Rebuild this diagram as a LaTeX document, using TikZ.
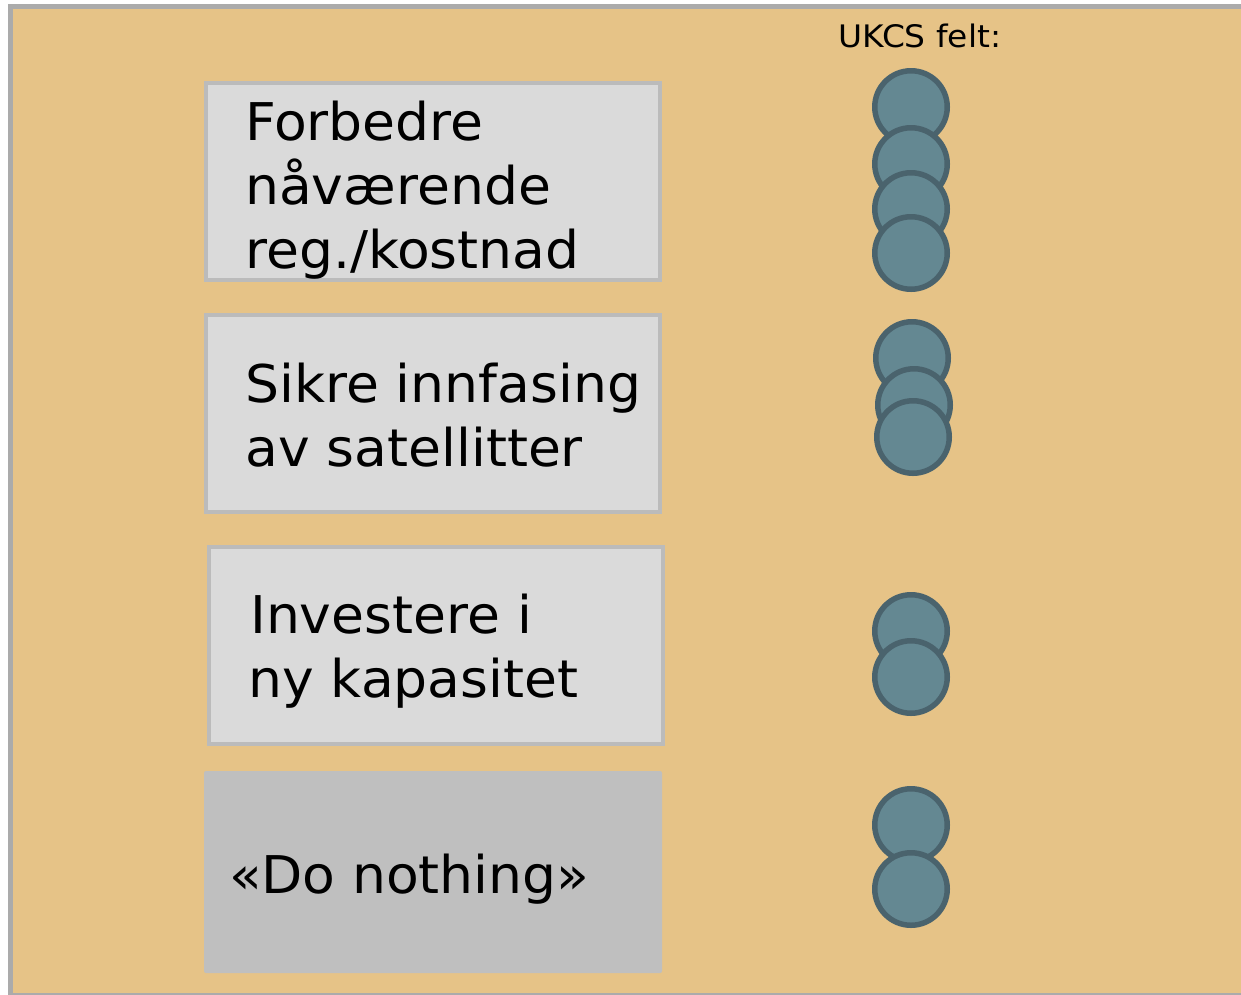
\documentclass[tikz,border=0pt]{standalone}
\usepackage{fontspec}
\setmainfont{DejaVu Sans}
\newfontfamily\widesans[FakeStretch=1.03]{DejaVu Sans}
\newfontfamily\widersans[FakeStretch=1.06]{DejaVu Sans}
\definecolor{bgorange}{HTML}{E6C387}
\definecolor{framegray}{HTML}{ABABAB}
\definecolor{boxfill}{HTML}{DADADA}
\definecolor{boxline}{HTML}{BBBBBB}
\definecolor{nothingfill}{HTML}{BFBFBF}
\definecolor{dotfill}{HTML}{648892}
\definecolor{dotline}{HTML}{4A636D}
\begin{document}
\begin{tikzpicture}[x=1pt,y=-1pt,
  optbox/.style={draw=boxline,line width=4pt,fill=boxfill},
  nothingbox/.style={fill=nothingfill,rounded corners=2pt},
  bigtext/.style={anchor=base west,inner sep=0pt,font=\widesans\fontsize{52}{64}\selectfont},
  smalltext/.style={anchor=base west,inner sep=0pt,font=\widersans\fontsize{31}{38}\selectfont},
  field/.style={circle,draw=dotline,fill=dotfill,line width=5.5pt,minimum size=72.5pt,inner sep=0pt}]
\useasboundingbox (0,0) rectangle (1241,994);
\begin{scope}
\clip (0,0) rectangle (1241,994);
\fill[white] (0,0) rectangle (1241,994);
\draw[framegray,line width=5pt,fill=bgorange] (10.5,6.5) rectangle (1260,995.5);
\end{scope}
% option boxes
\draw[optbox] (206,83) rectangle (660,280) coordinate (b1);
\draw[optbox] (206,315) rectangle (660,512) coordinate (b2);
\draw[optbox] (209,547) rectangle (663,744) coordinate (b3);
\fill[nothingbox] (204,771) rectangle (662,973) coordinate (b4);
% texts
\node[bigtext] (t1a) at (245,140) {Forbedre};
\node[bigtext] (t1b) at (245,204) {nåværende};
\node[bigtext] (t1c) at (245,268) {reg./kostnad};
\node[bigtext] (t2a) at (245,402) {Sikre innfasing};
\node[bigtext] (t2b) at (245,466) {av satellitter};
\node[bigtext] (t3a) at (250,633) {Investere i};
\node[bigtext] (t3b) at (248,697) {ny kapasitet};
\node[bigtext] (t4) at (229,893) {«Do nothing»};
\node[smalltext] (hdr) at (838,47) {UKCS felt:};
% fields
\node[field] (f1) at (911,107) {};
\node[field] (f2) at (911,164) {};
\node[field] (f3) at (911,209) {};
\node[field] (f4) at (911,253) {};
\node[field] (f5) at (912,358) {};
\node[field] (f6) at (914,405) {};
\node[field] (f7) at (913,437) {};
\node[field] (f8) at (911,631) {};
\node[field] (f9) at (911,677) {};
\node[field] (f10) at (911,825) {};
\node[field] (f11) at (911,889) {};
\end{tikzpicture}
\end{document}
